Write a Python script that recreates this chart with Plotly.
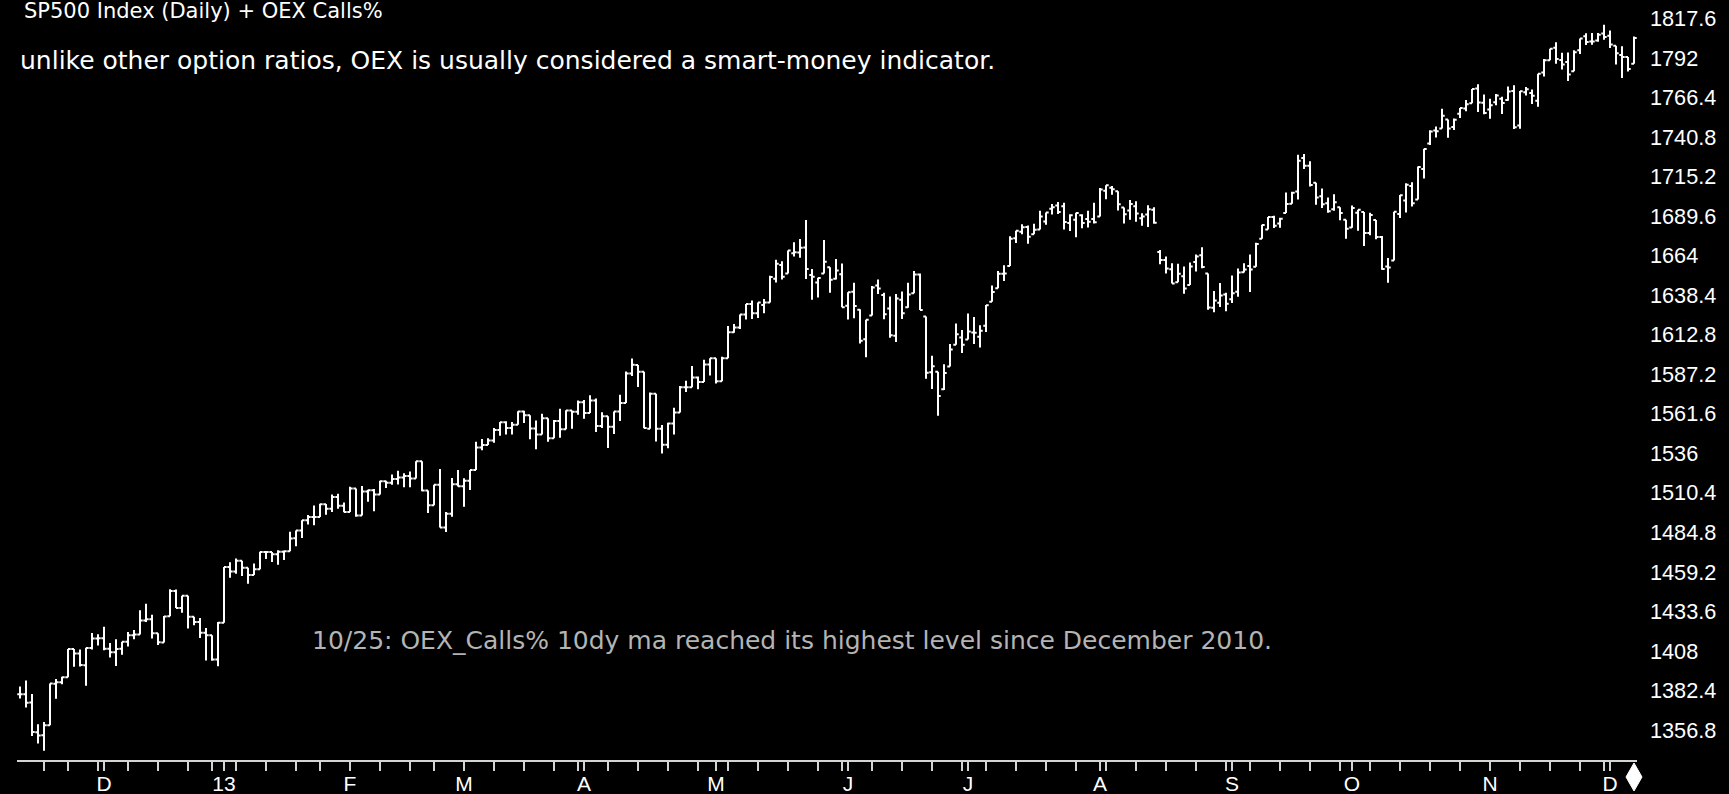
import numpy as np
import pandas as pd
import plotly.graph_objects as go

# ---------------- data ----------------
start_date = "2012-11-12"
end_date = "2013-12-06"
market_holidays = ["2012-11-22", "2012-12-25", "2013-01-01", "2013-01-21", "2013-02-18",
                   "2013-03-29", "2013-05-27", "2013-07-04", "2013-09-02", "2013-11-28"]

open_ = [
    1379.9, 1380.0, 1374.6, 1355.4, 1353.4, 1359.9, 1386.8, 1387.8, 1391.0, 1409.2, 1406.3, 1398.8, 1409.9, 1416.0,
    1416.3, 1409.5, 1407.1, 1409.4, 1413.9, 1418.1, 1418.6, 1427.8, 1428.5, 1419.5, 1413.5, 1430.5, 1446.8, 1435.8,
    1443.7, 1430.2, 1426.7, 1419.8, 1418.1, 1402.4,
    1426.2, 1462.4, 1459.4, 1466.5, 1461.9, 1457.2, 1461.0, 1472.1, 1472.1, 1470.7, 1472.3, 1472.6, 1481.0, 1486.0,
    1492.6, 1494.8, 1494.8, 1503.0, 1500.2, 1507.8, 1502.0,
    1498.1, 1513.2, 1495.7, 1511.3, 1512.1, 1509.4, 1517.9, 1517.0, 1519.4, 1520.3, 1521.4, 1519.8, 1530.9, 1512.0,
    1502.4, 1515.6, 1487.9, 1496.9, 1516.0,
    1514.7, 1518.2, 1525.2, 1539.8, 1541.5, 1544.3, 1551.2, 1556.2, 1552.5, 1554.5, 1563.2, 1560.7, 1552.1, 1548.3,
    1558.7, 1545.8, 1556.9, 1551.7, 1563.8, 1562.9,
    1569.2, 1562.2, 1570.3, 1553.7, 1560.0, 1553.3, 1563.1, 1568.6, 1587.7, 1593.3, 1588.8, 1552.0, 1574.6, 1552.0,
    1541.6, 1555.3, 1562.5, 1578.8, 1578.8, 1585.2, 1582.3, 1593.6,
    1597.6, 1582.8, 1597.6, 1614.4, 1617.6, 1626.0, 1632.7, 1626.7, 1632.1, 1633.8, 1649.1, 1658.1, 1652.5, 1665.7,
    1666.2, 1669.4, 1651.6, 1646.7, 1652.6, 1656.6, 1649.1, 1652.1,
    1631.7, 1640.7, 1629.1, 1609.9, 1625.3, 1644.7, 1638.6, 1629.9, 1612.2, 1635.5, 1630.6, 1639.8, 1651.8, 1624.6,
    1588.6, 1588.8, 1577.5, 1592.3, 1606.4, 1611.1,
    1609.8, 1614.3, 1611.5, 1618.7, 1634.2, 1642.9, 1652.3, 1657.4, 1675.3, 1679.6, 1682.7, 1677.9, 1681.1, 1686.2,
    1694.4, 1696.6, 1696.1, 1685.2, 1687.3, 1690.3, 1687.9, 1687.8,
    1689.4, 1706.1, 1708.0, 1705.8, 1695.3, 1693.4, 1696.1, 1688.4, 1690.7, 1693.9, 1666.5, 1661.2, 1655.3, 1646.8,
    1650.7, 1645.0, 1659.9, 1664.3, 1652.5, 1630.3, 1633.5, 1638.9,
    1635.9, 1640.7, 1653.3, 1657.4, 1656.9, 1675.1, 1681.0, 1689.2, 1685.0, 1691.7, 1697.7, 1705.7, 1727.3, 1722.4,
    1711.4, 1702.6, 1698.0, 1694.1, 1695.5, 1687.3,
    1682.4, 1691.9, 1692.4, 1678.8, 1687.2, 1676.2, 1657.0, 1660.9, 1691.1, 1699.9, 1709.2, 1700.5, 1720.2, 1736.7,
    1745.2, 1746.5, 1752.3, 1747.5, 1756.0, 1759.4, 1762.9, 1772.3, 1763.2,
    1758.7, 1763.4, 1765.7, 1765.0, 1770.7, 1748.4, 1770.0, 1769.5, 1764.4, 1782.8, 1790.7, 1798.8, 1790.8, 1789.6,
    1783.5, 1797.2, 1806.3, 1802.9, 1803.5, 1808.0,
    1806.6, 1800.1, 1794.1, 1792.8, 1788.4,
]
high = [
    1384.9, 1388.8, 1380.1, 1360.6, 1362.0, 1386.9, 1389.8, 1391.3, 1409.2, 1409.2, 1409.0, 1410.0, 1419.7, 1418.9,
    1423.7, 1413.1, 1415.6, 1413.9, 1420.3, 1421.6, 1434.3, 1438.6, 1431.4, 1419.5, 1430.7, 1448.0, 1447.8, 1443.7,
    1443.7, 1430.2, 1429.4, 1422.8, 1418.1, 1426.7,
    1462.4, 1465.5, 1467.9, 1466.5, 1461.9, 1464.7, 1472.3, 1472.8, 1472.1, 1473.3, 1473.0, 1485.2, 1486.0, 1492.6,
    1496.1, 1502.3, 1503.3, 1503.2, 1509.3, 1509.9, 1504.2,
    1514.4, 1513.2, 1514.8, 1512.5, 1512.9, 1518.3, 1518.3, 1522.3, 1524.7, 1523.1, 1524.2, 1530.9, 1530.9, 1512.0,
    1515.6, 1525.8, 1498.0, 1520.1, 1525.3,
    1519.9, 1525.3, 1543.5, 1545.3, 1545.8, 1552.5, 1556.3, 1556.8, 1556.4, 1563.3, 1563.6, 1560.7, 1557.3, 1561.6,
    1558.7, 1557.7, 1564.9, 1563.9, 1563.8, 1570.3,
    1570.6, 1573.7, 1571.5, 1562.6, 1560.0, 1563.1, 1573.9, 1589.1, 1597.4, 1593.3, 1588.8, 1575.4, 1574.6, 1554.4,
    1555.9, 1565.6, 1579.6, 1583.0, 1592.6, 1585.8, 1596.7, 1597.6,
    1597.6, 1598.6, 1618.5, 1619.8, 1626.0, 1632.8, 1635.0, 1633.7, 1636.0, 1651.1, 1661.5, 1660.5, 1667.5, 1672.8,
    1674.9, 1687.2, 1655.5, 1649.8, 1674.2, 1656.6, 1661.9, 1659.0,
    1640.4, 1646.5, 1629.3, 1622.6, 1644.4, 1648.7, 1640.1, 1637.7, 1639.3, 1640.8, 1646.5, 1654.2, 1652.5, 1624.6,
    1599.2, 1588.8, 1593.8, 1606.8, 1620.1, 1615.9,
    1626.6, 1624.3, 1619.0, 1632.1, 1644.7, 1654.2, 1657.9, 1676.6, 1680.2, 1684.5, 1683.7, 1684.8, 1693.1, 1692.1,
    1697.6, 1698.8, 1698.4, 1690.9, 1691.9, 1690.9, 1693.2, 1698.4,
    1707.9, 1709.7, 1709.2, 1705.8, 1695.3, 1700.2, 1699.4, 1691.5, 1696.8, 1695.5, 1667.8, 1663.6, 1659.2, 1658.9,
    1657.0, 1659.6, 1664.9, 1669.5, 1652.5, 1641.2, 1646.4, 1640.1,
    1651.3, 1655.7, 1659.2, 1664.8, 1672.4, 1684.1, 1689.1, 1690.0, 1688.7, 1705.0, 1705.5, 1729.4, 1729.9, 1725.2,
    1711.4, 1707.6, 1701.7, 1703.9, 1695.5, 1687.3,
    1696.6, 1693.9, 1692.4, 1691.9, 1687.2, 1676.8, 1662.5, 1692.6, 1703.4, 1711.0, 1711.6, 1721.8, 1733.4, 1745.3,
    1747.8, 1759.3, 1752.3, 1753.0, 1759.8, 1765.0, 1772.1, 1775.2, 1768.5,
    1765.7, 1768.8, 1767.0, 1773.7, 1774.5, 1770.8, 1773.4, 1771.8, 1782.0, 1791.5, 1798.2, 1802.3, 1795.5, 1795.7,
    1797.2, 1804.8, 1808.1, 1808.4, 1808.3, 1813.6,
    1810.0, 1800.1, 1799.8, 1792.8, 1806.0,
]
low = [
    1377.2, 1371.4, 1352.9, 1348.1, 1343.4, 1359.9, 1377.0, 1386.4, 1391.0, 1397.7, 1398.0, 1385.4, 1409.0, 1411.6,
    1408.5, 1403.7, 1398.2, 1405.6, 1410.9, 1415.6, 1418.6, 1426.8, 1416.0, 1411.9, 1413.5, 1430.5, 1435.8, 1432.8,
    1422.6, 1424.7, 1416.4, 1401.8, 1401.6, 1398.1,
    1426.2, 1455.5, 1458.0, 1456.6, 1451.6, 1457.2, 1461.0, 1467.6, 1465.7, 1463.8, 1467.0, 1472.6, 1475.9, 1481.2,
    1489.9, 1489.5, 1494.8, 1496.3, 1498.1, 1500.1, 1497.8,
    1498.1, 1495.0, 1495.7, 1504.7, 1498.5, 1509.4, 1513.6, 1515.6, 1515.9, 1514.0, 1514.1, 1519.8, 1511.4, 1497.3,
    1502.4, 1487.9, 1485.0, 1494.9, 1514.5,
    1501.5, 1512.3, 1525.2, 1538.1, 1541.5, 1542.9, 1547.4, 1548.2, 1548.3, 1554.5, 1555.7, 1545.1, 1538.6, 1548.3,
    1543.6, 1545.8, 1546.2, 1551.7, 1551.9, 1561.1,
    1558.5, 1562.2, 1549.8, 1552.5, 1539.5, 1548.6, 1557.0, 1568.6, 1586.2, 1579.0, 1552.3, 1552.0, 1543.7, 1536.0,
    1539.4, 1548.2, 1562.5, 1575.8, 1578.8, 1577.6, 1582.3, 1586.5,
    1581.3, 1582.8, 1597.6, 1614.2, 1616.6, 1622.7, 1623.1, 1623.7, 1626.7, 1633.8, 1646.7, 1648.6, 1652.5, 1663.5,
    1662.7, 1648.9, 1635.5, 1636.9, 1652.6, 1640.1, 1648.6, 1630.7,
    1622.7, 1623.6, 1607.1, 1598.2, 1625.3, 1639.3, 1622.9, 1610.9, 1608.1, 1623.0, 1630.3, 1639.8, 1628.9, 1584.3,
    1577.7, 1560.3, 1577.1, 1592.3, 1606.4, 1601.1,
    1609.8, 1606.8, 1604.6, 1614.7, 1634.2, 1642.9, 1647.7, 1657.4, 1672.3, 1677.9, 1671.8, 1677.9, 1681.1, 1684.1,
    1690.7, 1691.1, 1681.0, 1680.1, 1676.0, 1681.9, 1682.4, 1684.9,
    1689.4, 1700.7, 1703.6, 1693.3, 1684.9, 1687.4, 1686.0, 1683.4, 1682.6, 1684.8, 1658.6, 1652.6, 1646.1, 1646.8,
    1639.4, 1645.0, 1653.9, 1656.0, 1629.1, 1627.5, 1630.9, 1628.1,
    1633.4, 1637.4, 1653.1, 1640.6, 1656.9, 1675.1, 1681.0, 1682.0, 1682.2, 1691.7, 1697.7, 1700.4, 1720.2, 1708.9,
    1697.1, 1694.9, 1691.9, 1693.1, 1687.1, 1675.0,
    1682.1, 1680.3, 1670.4, 1677.3, 1674.7, 1655.0, 1646.5, 1660.9, 1688.5, 1692.1, 1695.9, 1700.5, 1714.1, 1735.7,
    1740.7, 1746.5, 1740.5, 1745.5, 1753.3, 1757.7, 1762.9, 1757.2, 1755.7,
    1752.7, 1761.6, 1755.8, 1764.4, 1746.2, 1746.3, 1767.8, 1762.3, 1760.6, 1780.2, 1790.7, 1788.4, 1784.7, 1777.2,
    1783.5, 1794.7, 1800.6, 1800.8, 1802.6, 1804.0,
    1798.6, 1787.9, 1779.1, 1783.4, 1788.4,
]
close = [
    1380.0, 1374.5, 1355.5, 1353.3, 1359.9, 1386.9, 1387.8, 1391.0, 1409.2, 1406.3, 1398.9, 1409.9, 1416.0, 1416.2,
    1409.5, 1407.1, 1409.3, 1413.9, 1418.1, 1418.6, 1427.8, 1428.5, 1419.5, 1413.6, 1430.4, 1446.8, 1435.8, 1443.7,
    1430.2, 1426.7, 1419.8, 1418.1, 1402.4, 1426.2,
    1462.4, 1459.4, 1466.5, 1461.9, 1457.2, 1461.0, 1472.1, 1472.1, 1470.7, 1472.3, 1472.6, 1480.9, 1486.0, 1492.6,
    1494.8, 1494.8, 1503.0, 1500.2, 1507.8, 1502.0, 1498.1,
    1513.2, 1495.7, 1511.3, 1512.1, 1509.4, 1517.9, 1517.0, 1519.4, 1520.3, 1521.4, 1519.8, 1530.9, 1512.0, 1502.4,
    1515.6, 1487.9, 1496.9, 1516.0, 1514.7,
    1518.2, 1525.2, 1539.8, 1541.5, 1544.3, 1551.2, 1556.2, 1552.5, 1554.5, 1563.2, 1560.7, 1552.1, 1548.3, 1558.7,
    1545.8, 1556.9, 1551.7, 1563.8, 1562.9, 1569.2,
    1562.2, 1570.3, 1553.7, 1560.0, 1553.3, 1563.1, 1568.6, 1587.7, 1593.4, 1588.9, 1552.4, 1574.6, 1552.0, 1541.6,
    1555.3, 1562.5, 1578.8, 1578.8, 1585.2, 1582.2, 1593.6, 1597.6,
    1582.7, 1597.6, 1614.4, 1617.5, 1626.0, 1632.7, 1626.7, 1633.7, 1633.8, 1650.3, 1658.8, 1650.5, 1667.5, 1666.3,
    1669.2, 1655.4, 1650.5, 1649.6, 1660.1, 1648.4, 1654.4, 1630.7,
    1640.4, 1631.4, 1608.9, 1622.6, 1643.4, 1642.8, 1626.1, 1612.5, 1636.4, 1626.7, 1639.0, 1651.8, 1628.9, 1588.2,
    1592.4, 1573.1, 1588.0, 1603.3, 1613.2, 1606.3,
    1615.0, 1614.1, 1615.4, 1631.9, 1640.5, 1652.3, 1652.6, 1675.0, 1680.2, 1682.5, 1676.3, 1680.9, 1689.4, 1692.1,
    1695.5, 1692.4, 1685.9, 1690.3, 1691.7, 1685.3, 1686.0, 1685.7,
    1706.9, 1709.7, 1707.1, 1697.4, 1690.9, 1697.5, 1691.4, 1689.5, 1694.2, 1685.4, 1661.3, 1655.8, 1646.1, 1652.4,
    1642.8, 1657.0, 1663.5, 1656.8, 1630.5, 1635.0, 1638.2, 1633.0,
    1639.8, 1653.1, 1655.1, 1655.2, 1671.7, 1684.0, 1689.1, 1683.4, 1688.0, 1697.6, 1704.8, 1725.5, 1722.3, 1709.9,
    1701.8, 1697.4, 1692.8, 1698.7, 1691.8, 1681.6,
    1695.0, 1693.9, 1678.7, 1690.5, 1676.1, 1655.5, 1656.4, 1692.6, 1703.2, 1710.1, 1698.1, 1721.5, 1733.2, 1744.5,
    1744.7, 1754.7, 1746.4, 1752.1, 1759.8, 1762.1, 1772.0, 1763.3, 1756.5,
    1761.6, 1767.9, 1763.0, 1770.5, 1747.2, 1770.6, 1771.9, 1767.7, 1782.0, 1790.6, 1798.2, 1791.5, 1787.9, 1781.4,
    1795.9, 1804.8, 1802.5, 1802.8, 1807.2, 1805.8,
    1800.9, 1795.2, 1792.8, 1785.0, 1805.1,
]

month_labels = ["D", "13", "F", "M", "A", "M", "J", "J", "A", "S", "O", "N", "D"]
y_tick_start, y_tick_step, y_tick_count = 1356.8, 25.6, 19
y_range = [1337.36, 1829.71]

title_text = "SP500 Index (Daily) + OEX Calls%"
note_text = "unlike other option ratios, OEX is usually considered a smart-money indicator."
event_text = "10/25: OEX_Calls% 10dy ma reached its highest level since December 2010."

# ---------------- derived categories ----------------
dates = pd.bdate_range(start_date, end_date)
dates = dates[~dates.isin(pd.to_datetime(market_holidays))]
n = len(dates)
idx = np.arange(n)

# first trading day of each month (labelled ticks)
month_first = [i for i in range(n) if i > 0 and dates[i].month != dates[i - 1].month]
# last trading day of each week (minor ticks)
wk = dates.isocalendar().week.values
week_last = [i for i in range(n - 1) if wk[i] != wk[i + 1]]

yvals = [round(y_tick_start + k * y_tick_step, 1) for k in range(y_tick_count)]
ytext = [(f"{v:.0f}" if abs(v - round(v)) < 1e-9 else f"{v:.1f}") for v in yvals]

W, H = 1729, 794
ML, MR, MT, MB = 17, 92, 0, 34
pw, ph = W - ML - MR, H - MT - MB
x_range = [-0.5, n - 0.5]

fig = go.Figure()
fig.add_trace(go.Ohlc(
    x=idx, open=open_, high=high, low=low, close=close,
    increasing=dict(line=dict(color="#ffffff", width=2)),
    decreasing=dict(line=dict(color="#ffffff", width=2)),
    tickwidth=0.45, showlegend=False, hoverinfo="skip",
))

# current-bar marker (diamond) under the axis, anchored at the last bar
last_bar_paper = (idx[-1] - x_range[0]) / (x_range[1] - x_range[0])
diamond = dict(
    type="path", xref="paper", yref="paper",
    xsizemode="pixel", ysizemode="pixel", xanchor=last_bar_paper, yanchor=0,
    path="M 0,-3 L 8,-17 L 0,-31 L -8,-17 Z",
    fillcolor="#ffffff", line=dict(color="#ffffff", width=1), layer="above",
)

fig.update_layout(
    template="none",
    width=W, height=H,
    margin=dict(l=ML, r=MR, t=MT, b=MB, pad=0),
    paper_bgcolor="#000000", plot_bgcolor="#000000",
    showlegend=False,
    shapes=[diamond],
    xaxis=dict(
        range=x_range, rangeslider=dict(visible=False),
        showgrid=False, zeroline=False,
        showline=True, linecolor="#d4d4d4", linewidth=2,
        tickmode="array", tickvals=month_first, ticktext=month_labels,
        ticks="outside", ticklen=9, tickwidth=2, tickcolor="#d4d4d4",
        minor=dict(tickmode="array", tickvals=week_last, ticks="outside",
                   ticklen=9, tickwidth=2, tickcolor="#d4d4d4", showgrid=False),
        ticklabelstandoff=-5,
        tickfont=dict(family="Liberation Sans, Arial, sans-serif", size=21, color="#ffffff"),
        automargin=False, fixedrange=True,
    ),
    yaxis=dict(
        range=y_range, side="right",
        showgrid=False, zeroline=False, showline=False,
        tickmode="array", tickvals=yvals, ticktext=ytext,
        ticks="", ticklabelstandoff=12,
        tickfont=dict(family="Liberation Sans, Arial, sans-serif", size=21.7, color="#ffffff"),
        automargin=False, fixedrange=True,
    ),
    annotations=[
        dict(text=title_text, xref="paper", yref="paper", x=(22 - ML) / pw, y=(H - MB - 11) / ph,
             xanchor="left", yanchor="middle", showarrow=False,
             font=dict(family="DejaVu Sans, sans-serif", size=21, color="#ffffff")),
        dict(text=note_text, xref="paper", yref="paper", x=(18 - ML) / pw, y=(H - MB - 60) / ph,
             xanchor="left", yanchor="middle", showarrow=False,
             font=dict(family="DejaVu Sans, sans-serif", size=25, color="#ffffff")),
        dict(text=event_text, xref="paper", yref="paper", x=(310 - ML) / pw, y=(H - MB - 640) / ph,
             xanchor="left", yanchor="middle", showarrow=False,
             font=dict(family="DejaVu Sans, sans-serif", size=25, color="#b4b4b4")),
    ],
)

fig.write_html(
    "out.html",
    config={"displayModeBar": False, "staticPlot": True},
    post_script="document.body.style.margin='0px';document.body.style.background='#000000';",
)
